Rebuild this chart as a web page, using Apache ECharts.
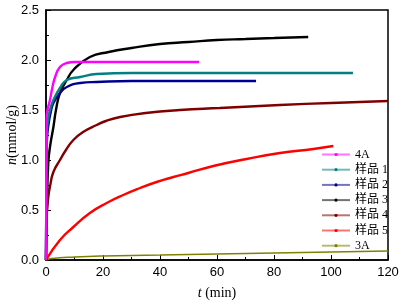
<!DOCTYPE html>
<html>
<head>
<meta charset="utf-8">
<script src="https://cdn.jsdelivr.net/npm/echarts@6/dist/echarts.min.js"></script>
<style>
  html, body { margin: 0; padding: 0; background: #fff; }
  #main { width: 401px; height: 306px; }
</style>
</head>
<body>
<div id="main"></div>
<script>
// series names (legend order)
var names = ['4A', '样品 1', '样品 2', '样品 3', '样品 4', '样品 5', '3A'];
var colors = ['#ff00ff', '#008080', '#000090', '#000000', '#800000', '#ff0000', '#808000'];

// t (min) and n (mmol/g)
var t4A = [0, 0.2, 0.5, 1.4, 2.2, 3.2, 4.9, 7.3, 10, 20, 30, 40, 53.7];
var n4A = [0, 1.43, 1.5, 1.6, 1.72, 1.83, 1.93, 1.97, 1.98, 1.98, 1.98, 1.98, 1.98];

var tS1 = [0, 0.2, 0.5, 1, 1.6, 2.6, 4.9, 7.3, 12, 17.8, 30, 50, 70, 90, 107.7];
var nS1 = [0, 1.2, 1.35, 1.45, 1.52, 1.6, 1.72, 1.8, 1.83, 1.86, 1.87, 1.87, 1.87, 1.87, 1.87];

var tS2 = [0, 0.2, 0.5, 1, 1.6, 2.6, 4.9, 7.3, 12, 17.8, 30, 50, 73.7];
var nS2 = [0, 1.1, 1.27, 1.38, 1.47, 1.57, 1.67, 1.73, 1.77, 1.78, 1.79, 1.79, 1.79];

var tS3 = [0, 0.3, 0.8, 1.5, 2.6, 3.5, 4.9, 7.3, 9.6, 15.4, 22, 30, 40, 50, 60, 70, 80, 92];
var nS3 = [0, 0.5, 0.97, 1.15, 1.33, 1.5, 1.67, 1.8, 1.9, 2.03, 2.08, 2.12, 2.16, 2.18, 2.2, 2.21, 2.22, 2.23];

var tS4 = [0, 0.2, 0.8, 1.5, 2.6, 4.9, 7, 9.6, 13, 17.8, 21, 26, 35, 47, 61, 82, 100, 120];
var nS4 = [0, 0.4, 0.63, 0.75, 0.88, 1.0, 1.1, 1.2, 1.28, 1.35, 1.39, 1.43, 1.47, 1.5, 1.52, 1.55, 1.57, 1.59];

var tS5 = [0, 4.9, 9.6, 15.4, 21.3, 27.1, 33, 38.8, 44.7, 49.9, 58.7, 70.4, 82.1, 93.8, 100.8];
var nS5 = [0, 0.2, 0.33, 0.47, 0.57, 0.65, 0.72, 0.78, 0.83, 0.87, 0.94, 1.01, 1.07, 1.11, 1.14];

var t3A = [0, 2, 10, 20, 40, 60, 80, 100, 120];
var n3A = [0, 0.015, 0.03, 0.04, 0.05, 0.06, 0.07, 0.08, 0.09];

var tSets = [t4A, tS1, tS2, tS3, tS4, tS5, t3A];
var nSets = [n4A, nS1, nS2, nS3, nS4, nS5, n3A];

var xTicks = [0, 20, 40, 60, 80, 100, 120];
var yTicks = [0.0, 0.5, 1.0, 1.5, 2.0, 2.5];

var chart = echarts.init(document.getElementById('main'));

var series = [];
for (var i = 0; i < names.length; i++) {
    var pts = [];
    for (var j = 0; j < tSets[i].length; j++) {
        pts.push([tSets[i][j], nSets[i][j]]);
    }
    series.push({
        name: names[i],
        type: 'line',
        data: pts,
        smooth: 0.5,
        symbol: 'circle',
        symbolSize: 3,
        showSymbol: false,
        color: colors[i],
        lineStyle: { width: i == 6 ? 1.5 : 2.4, color: colors[i] },
        z: 10 - i
    });
}

chart.setOption({
    animation: false,
    grid: {
        left: 46, right: 13, top: 10, bottom: 46,
        outerBoundsMode: 'none',
        containLabel: false,
        show: true, borderColor: '#000', borderWidth: 1.5
    },
    legend: {
        orient: 'vertical',
        left: 316,
        top: 143,
        itemWidth: 28,
        itemHeight: 4,
        itemGap: 2.2,
        data: names,
        lineStyle: { width: 2, opacity: 0.55 },
        textStyle: { fontFamily: 'Liberation Serif, Noto Sans CJK SC', fontSize: 12, lineHeight: 13, color: '#000' }
    },
    xAxis: {
        type: 'value',
        min: 0, max: 120, interval: 20,
        name: '{i|t} (min)',
        nameLocation: 'middle',
        nameGap: 26,
        nameMoveOverlap: false,
        nameTextStyle: {
            fontFamily: 'Liberation Serif', fontSize: 14, color: '#000',
            rich: { i: { fontStyle: 'italic', fontFamily: 'Liberation Serif', fontSize: 14 } }
        },
        axisLine: { lineStyle: { color: '#000', width: 1.5 } },
        axisTick: { inside: true, length: 5, lineStyle: { color: '#000' } },
        minorTick: { show: true, splitNumber: 2, length: 3, lineStyle: { color: '#000' } },
        splitLine: { show: false },
        axisLabel: {
            fontFamily: 'Liberation Sans', fontSize: 13, color: '#000', margin: 6,
            formatter: function (v) { return xTicks.indexOf(v) >= 0 ? String(v) : ''; }
        }
    },
    yAxis: {
        type: 'value',
        min: 0, max: 2.5, interval: 0.5,
        name: '{i|n}(mmol/g)',
        nameLocation: 'middle',
        nameGap: 27,
        nameMoveOverlap: false,
        nameTextStyle: {
            fontFamily: 'Liberation Serif', fontSize: 14, color: '#000',
            rich: { i: { fontStyle: 'italic', fontFamily: 'Liberation Serif', fontSize: 14 } }
        },
        axisLine: { lineStyle: { color: '#000', width: 1.5 } },
        axisTick: { inside: true, length: 5, lineStyle: { color: '#000' } },
        minorTick: { show: true, splitNumber: 2, length: 3, lineStyle: { color: '#000' } },
        splitLine: { show: false },
        axisLabel: {
            fontFamily: 'Liberation Sans', fontSize: 13, color: '#000', margin: 7,
            formatter: function (v) {
                for (var k = 0; k < yTicks.length; k++) {
                    if (Math.abs(yTicks[k] - v) < 1e-9) return yTicks[k].toFixed(1);
                }
                return '';
            }
        }
    },
    series: series
});
window.onresize = chart.resize;
</script>
</body>
</html>
